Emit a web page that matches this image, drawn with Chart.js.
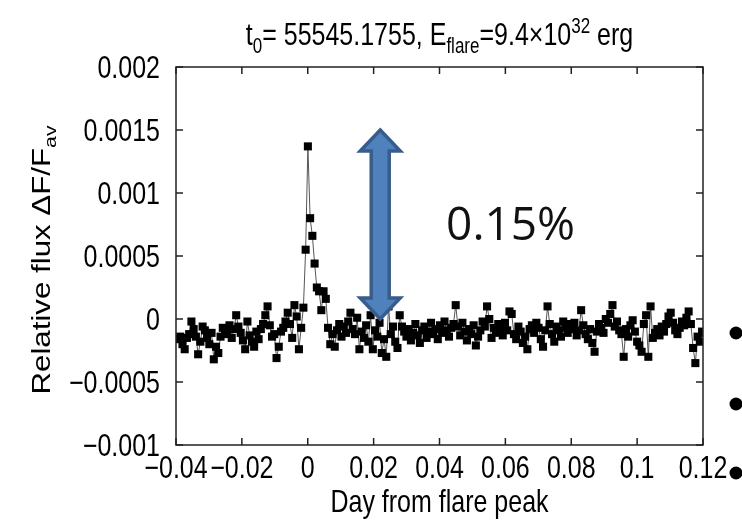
<!DOCTYPE html>
<html>
<head>
<meta charset="utf-8">
<script src="https://cdn.jsdelivr.net/npm/chart.js@4/dist/chart.umd.min.js"></script>
<style>
  html, body { margin: 0; padding: 0; background: #fff; }
  canvas { display: block; }
</style>
</head>
<body>
<canvas id="flareChart" width="742" height="522"></canvas>
<script>
// time in days relative to flare peak (Kepler short cadence)
var flareTimes = [
  -0.03940, -0.03872, -0.03804, -0.03736, -0.03668, -0.03600, -0.03532, -0.03464, -0.03396, -0.03328,
  -0.03260, -0.03192, -0.03124, -0.03056, -0.02988, -0.02920, -0.02852, -0.02784, -0.02716, -0.02648,
  -0.02580, -0.02512, -0.02444, -0.02376, -0.02308, -0.02240, -0.02172, -0.02104, -0.02036, -0.01968,
  -0.01900, -0.01832, -0.01764, -0.01696, -0.01628, -0.01560, -0.01492, -0.01424, -0.01356, -0.01288,
  -0.01220, -0.01152, -0.01084, -0.01016, -0.00948, -0.00880, -0.00812, -0.00744, -0.00676, -0.00608,
  -0.00540, -0.00472, -0.00404, -0.00336, -0.00268, -0.00200, -0.00132, -0.00064, 0.00004, 0.00072,
  0.00140, 0.00208, 0.00276, 0.00344, 0.00412, 0.00480, 0.00548, 0.00616, 0.00684, 0.00752,
  0.00820, 0.00888, 0.00956, 0.01024, 0.01092, 0.01160, 0.01228, 0.01296, 0.01364, 0.01432,
  0.01500, 0.01568, 0.01636, 0.01704, 0.01772, 0.01840, 0.01908, 0.01976, 0.02044, 0.02112,
  0.02180, 0.02248, 0.02316, 0.02384, 0.02452, 0.02520, 0.02588, 0.02656, 0.02724, 0.02792,
  0.02860, 0.02928, 0.02996, 0.03064, 0.03132, 0.03200, 0.03268, 0.03336, 0.03404, 0.03472,
  0.03540, 0.03608, 0.03676, 0.03744, 0.03812, 0.03880, 0.03948, 0.04016, 0.04084, 0.04152,
  0.04220, 0.04288, 0.04356, 0.04424, 0.04492, 0.04560, 0.04628, 0.04696, 0.04764, 0.04832,
  0.04900, 0.04968, 0.05036, 0.05104, 0.05172, 0.05240, 0.05308, 0.05376, 0.05444, 0.05512,
  0.05580, 0.05648, 0.05716, 0.05784, 0.05852, 0.05920, 0.05988, 0.06056, 0.06124, 0.06192,
  0.06260, 0.06328, 0.06396, 0.06464, 0.06532, 0.06600, 0.06668, 0.06736, 0.06804, 0.06872,
  0.06940, 0.07008, 0.07076, 0.07144, 0.07212, 0.07280, 0.07348, 0.07416, 0.07484, 0.07552,
  0.07620, 0.07688, 0.07756, 0.07824, 0.07892, 0.07960, 0.08028, 0.08096, 0.08164, 0.08232,
  0.08300, 0.08368, 0.08436, 0.08504, 0.08572, 0.08640, 0.08708, 0.08776, 0.08844, 0.08912,
  0.08980, 0.09048, 0.09116, 0.09184, 0.09252, 0.09320, 0.09388, 0.09456, 0.09524, 0.09592,
  0.09660, 0.09728, 0.09796, 0.09864, 0.09932, 0.10000, 0.10068, 0.10136, 0.10204, 0.10272,
  0.10340, 0.10408, 0.10476, 0.10544, 0.10612, 0.10680, 0.10748, 0.10816, 0.10884, 0.10952,
  0.11020, 0.11088, 0.11156, 0.11224, 0.11292, 0.11360, 0.11428, 0.11496, 0.11564, 0.11632,
  0.11700, 0.11768, 0.11836, 0.11904, 0.11972, 0.12040
];

// relative flux dF/F_av
var relFlux = [
  -0.00016, -0.00014, -0.00020, -0.00024, -0.00015, -0.00012, -0.00002, -0.00008, -0.00014, -0.00028,
  -0.00018, -0.00006, -0.00009, -0.00015, -0.00020, -0.00011, -0.00032, -0.00022, -0.00027, -0.00014,
  -0.00007, -0.00012, -0.00009, -0.00005, -0.00015, -0.00008, 0.00003, -0.00006, -0.00011, -0.00017,
  -0.00024, -0.00002, -0.00013, -0.00018, -0.00022, -0.00010, -0.00016, -0.00008, -0.00004, 0.00003,
  0.00010, -0.00005, -0.00014, -0.00012, -0.00031, -0.00022, -0.00010, -0.00007, -0.00002, 0.00005,
  -0.00004, -0.00015, 0.00011, 0.00002, -0.00024, -0.00007, 0.00009, 0.00055, 0.00137, 0.00080,
  0.00066, 0.00044, 0.00025, 0.00022, 0.00007, 0.00022, 0.00016, -0.00007, -0.00020, -0.00012,
  -0.00022, -0.00009, -0.00004, -0.00014, -0.00006, -0.00011, -0.00002, 0.00005, -0.00008, -0.00012,
  0.00001, -0.00024, -0.00010, -0.00015, -0.00005, -0.00018, 0.00003, -0.00024, -0.00009, -0.00014,
  -0.00003, -0.00027, -0.00016, -0.00030, 0.00010, -0.00012, -0.00006, -0.00018, -0.00023, 0.00003,
  -0.00006, -0.00010, -0.00014, -0.00008, -0.00017, -0.00011, -0.00004, -0.00013, -0.00019, -0.00009,
  -0.00006, -0.00015, -0.00010, -0.00003, -0.00012, -0.00008, -0.00016, -0.00005, -0.00011, -0.00002,
  -0.00009, -0.00014, -0.00007, -0.00004, 0.00011, -0.00006, -0.00013, -0.00003, -0.00010, -0.00017,
  -0.00008, -0.00012, -0.00005, -0.00021, -0.00014, -0.00009, -0.00002, -0.00006, 0.00010, 0.00000,
  -0.00015, -0.00007, -0.00011, -0.00004, -0.00008, -0.00013, -0.00003, -0.00009, 0.00006, 0.00004,
  -0.00012, -0.00016, -0.00006, -0.00010, -0.00019, -0.00014, -0.00024, -0.00008, -0.00005, -0.00011,
  -0.00003, -0.00007, -0.00016, -0.00022, -0.00009, 0.00010, -0.00004, -0.00012, -0.00018, -0.00006,
  -0.00009, -0.00014, -0.00002, -0.00007, -0.00011, -0.00004, -0.00008, -0.00003, -0.00013, -0.00009,
  0.00007, -0.00005, -0.00012, -0.00016, -0.00008, -0.00019, -0.00026, -0.00010, -0.00004, -0.00007,
  -0.00011, 0.00000, -0.00003, 0.00004, 0.00011, -0.00006, -0.00002, -0.00009, -0.00012, -0.00030,
  -0.00008, -0.00014, -0.00005, -0.00001, -0.00010, -0.00018, -0.00021, -0.00026, -0.00004, 0.00003,
  -0.00030, 0.00010, -0.00015, -0.00011, -0.00008, -0.00013, -0.00006, -0.00010, -0.00004, 0.00002,
  0.00005, -0.00003, -0.00009, -0.00012, -0.00007, -0.00002, -0.00005, 0.00001, 0.00006, -0.00004,
  -0.00023, -0.00035, -0.00014, -0.00018, -0.00010, -0.00011
];

var xMin = -0.04, xMax = 0.12, xStep = 0.02;
var yMin = -0.001, yMax = 0.002, yStep = 0.0005;

var FONT = '"Liberation Sans", Arial, sans-serif';
var SY = 1.25; // reference text looks vertically stretched

function fmt(v) {
  var s = parseFloat(v.toFixed(6)).toString();
  return s.replace('-', '\u2212');
}

// draws a run of text pieces (sub/superscripts) centred on 0
function richText(ctx, pieces) {
  var total = 0;
  pieces.forEach(function (p) {
    ctx.font = p.size + 'px ' + FONT;
    p.w = ctx.measureText(p.t).width;
    total += p.w;
  });
  var x = -total / 2;
  ctx.textAlign = 'left';
  ctx.textBaseline = 'alphabetic';
  pieces.forEach(function (p) {
    ctx.font = p.size + 'px ' + FONT;
    ctx.fillText(p.t, x, p.dy || 0);
    x += p.w;
  });
}

var decor = {
  id: 'decor',
  afterDatasetsDraw: function (chart) {
    var ctx = chart.ctx, xs = chart.scales.x, ys = chart.scales.y;
    // double-headed arrow marking 0.15 %
    var cx = xs.getPixelForValue(0.022);
    var top = ys.getPixelForValue(0.0015), bot = ys.getPixelForValue(0);
    var hw = 20, sw = 9, hl = 21;
    ctx.save();
    ctx.beginPath();
    ctx.moveTo(cx, top);
    ctx.lineTo(cx + hw, top + hl);
    ctx.lineTo(cx + sw, top + hl);
    ctx.lineTo(cx + sw, bot - hl);
    ctx.lineTo(cx + hw, bot - hl);
    ctx.lineTo(cx, bot);
    ctx.lineTo(cx - hw, bot - hl);
    ctx.lineTo(cx - sw, bot - hl);
    ctx.lineTo(cx - sw, top + hl);
    ctx.lineTo(cx - hw, top + hl);
    ctx.closePath();
    ctx.fillStyle = '#4F81BD';
    ctx.fill();
    ctx.lineWidth = 3.5;
    ctx.strokeStyle = '#385D8A';
    ctx.lineJoin = 'miter';
    ctx.stroke();

    ctx.fillStyle = '#111';
    ctx.font = '46px "Open Sans", sans-serif';
    ctx.textAlign = 'left';
    ctx.textBaseline = 'alphabetic';
    ctx.fillText('0.15%', xs.getPixelForValue(0.042), ys.getPixelForValue(0.00063));
    ctx.restore();
  },
  afterDraw: function (chart) {
    var ctx = chart.ctx, a = chart.chartArea;
    var xs = chart.scales.x, ys = chart.scales.y;
    ctx.save();
    ctx.strokeStyle = '#222';
    ctx.lineWidth = 1.5;
    ctx.strokeRect(a.left, a.top, a.right - a.left, a.bottom - a.top);

    ctx.beginPath();
    xs.ticks.forEach(function (t) {
      var px = xs.getPixelForValue(t.value);
      ctx.moveTo(px, a.bottom); ctx.lineTo(px, a.bottom - 7);
      ctx.moveTo(px, a.top); ctx.lineTo(px, a.top + 7);
    });
    ys.ticks.forEach(function (t) {
      var py = ys.getPixelForValue(t.value);
      ctx.moveTo(a.left, py); ctx.lineTo(a.left + 7, py);
      ctx.moveTo(a.right, py); ctx.lineTo(a.right - 7, py);
    });
    ctx.stroke();

    ctx.fillStyle = '#000';
    ctx.font = '25px ' + FONT;
    // x tick labels
    xs.ticks.forEach(function (t) {
      ctx.save();
      ctx.translate(xs.getPixelForValue(t.value), a.bottom + 33);
      ctx.scale(1, SY);
      ctx.textAlign = 'center';
      ctx.fillText(fmt(t.value), 0, 0);
      ctx.restore();
    });
    // y tick labels
    ys.ticks.forEach(function (t) {
      ctx.save();
      ctx.translate(a.left - 16, ys.getPixelForValue(t.value) + 11);
      ctx.scale(1, SY);
      ctx.textAlign = 'right';
      ctx.fillText(fmt(t.value), 0, 0);
      ctx.restore();
    });

    var mid = (a.left + a.right) / 2;
    // x axis title
    ctx.save();
    ctx.translate(mid, 512);
    ctx.scale(1, SY);
    richText(ctx, [{ t: 'Day from flare peak', size: 25 }]);
    ctx.restore();

    // y axis title
    ctx.save();
    ctx.translate(50, (a.top + a.bottom) / 2 + 4);
    ctx.rotate(-Math.PI / 2);
    ctx.scale(SY, 1);
    richText(ctx, [
      { t: 'Relative flux \u0394F/F', size: 25 },
      { t: 'av', size: 17, dy: 6 }
    ]);
    ctx.restore();

    // title
    ctx.save();
    ctx.translate(mid, 45);
    ctx.scale(1, SY);
    richText(ctx, [
      { t: 't', size: 25 },
      { t: '0', size: 17, dy: 6 },
      { t: '= 55545.1755, E', size: 25 },
      { t: 'flare', size: 17, dy: 6 },
      { t: '=9.4\u00d710', size: 25 },
      { t: '32', size: 17, dy: -10 },
      { t: ' erg', size: 25 }
    ]);
    ctx.restore();

    // bullet dots from the slide text behind the figure
    ctx.fillStyle = '#000';
    [333, 404, 473].forEach(function (by) {
      ctx.beginPath();
      ctx.arc(736, by, 6.5, 0, Math.PI * 2);
      ctx.fill();
    });
    ctx.restore();
  }
};

var points = flareTimes.map(function (t, i) { return { x: t, y: relFlux[i] }; });

new Chart(document.getElementById('flareChart'), {
  type: 'scatter',
  data: {
    datasets: [{
      data: points,
      showLine: true,
      borderColor: '#555',
      borderWidth: 1,
      pointStyle: 'rect',
      pointRadius: 5.7,
      pointBackgroundColor: '#000',
      pointBorderWidth: 0,
      tension: 0
    }]
  },
  options: {
    responsive: false,
    animation: false,
    devicePixelRatio: 1,
    layout: { padding: { top: 67, right: 39, left: 0, bottom: 0 } },
    plugins: { legend: { display: false }, tooltip: { enabled: false }, title: { display: false } },
    scales: {
      x: {
        type: 'linear', min: xMin, max: xMax,
        ticks: { stepSize: xStep, display: false },
        grid: { display: false }, border: { display: false },
        afterFit: function (s) { s.height = 77; }
      },
      y: {
        min: yMin, max: yMax,
        ticks: { stepSize: yStep, display: false },
        grid: { display: false }, border: { display: false },
        afterFit: function (s) { s.width = 176; }
      }
    }
  },
  plugins: [decor]
});
</script>
</body>
</html>
